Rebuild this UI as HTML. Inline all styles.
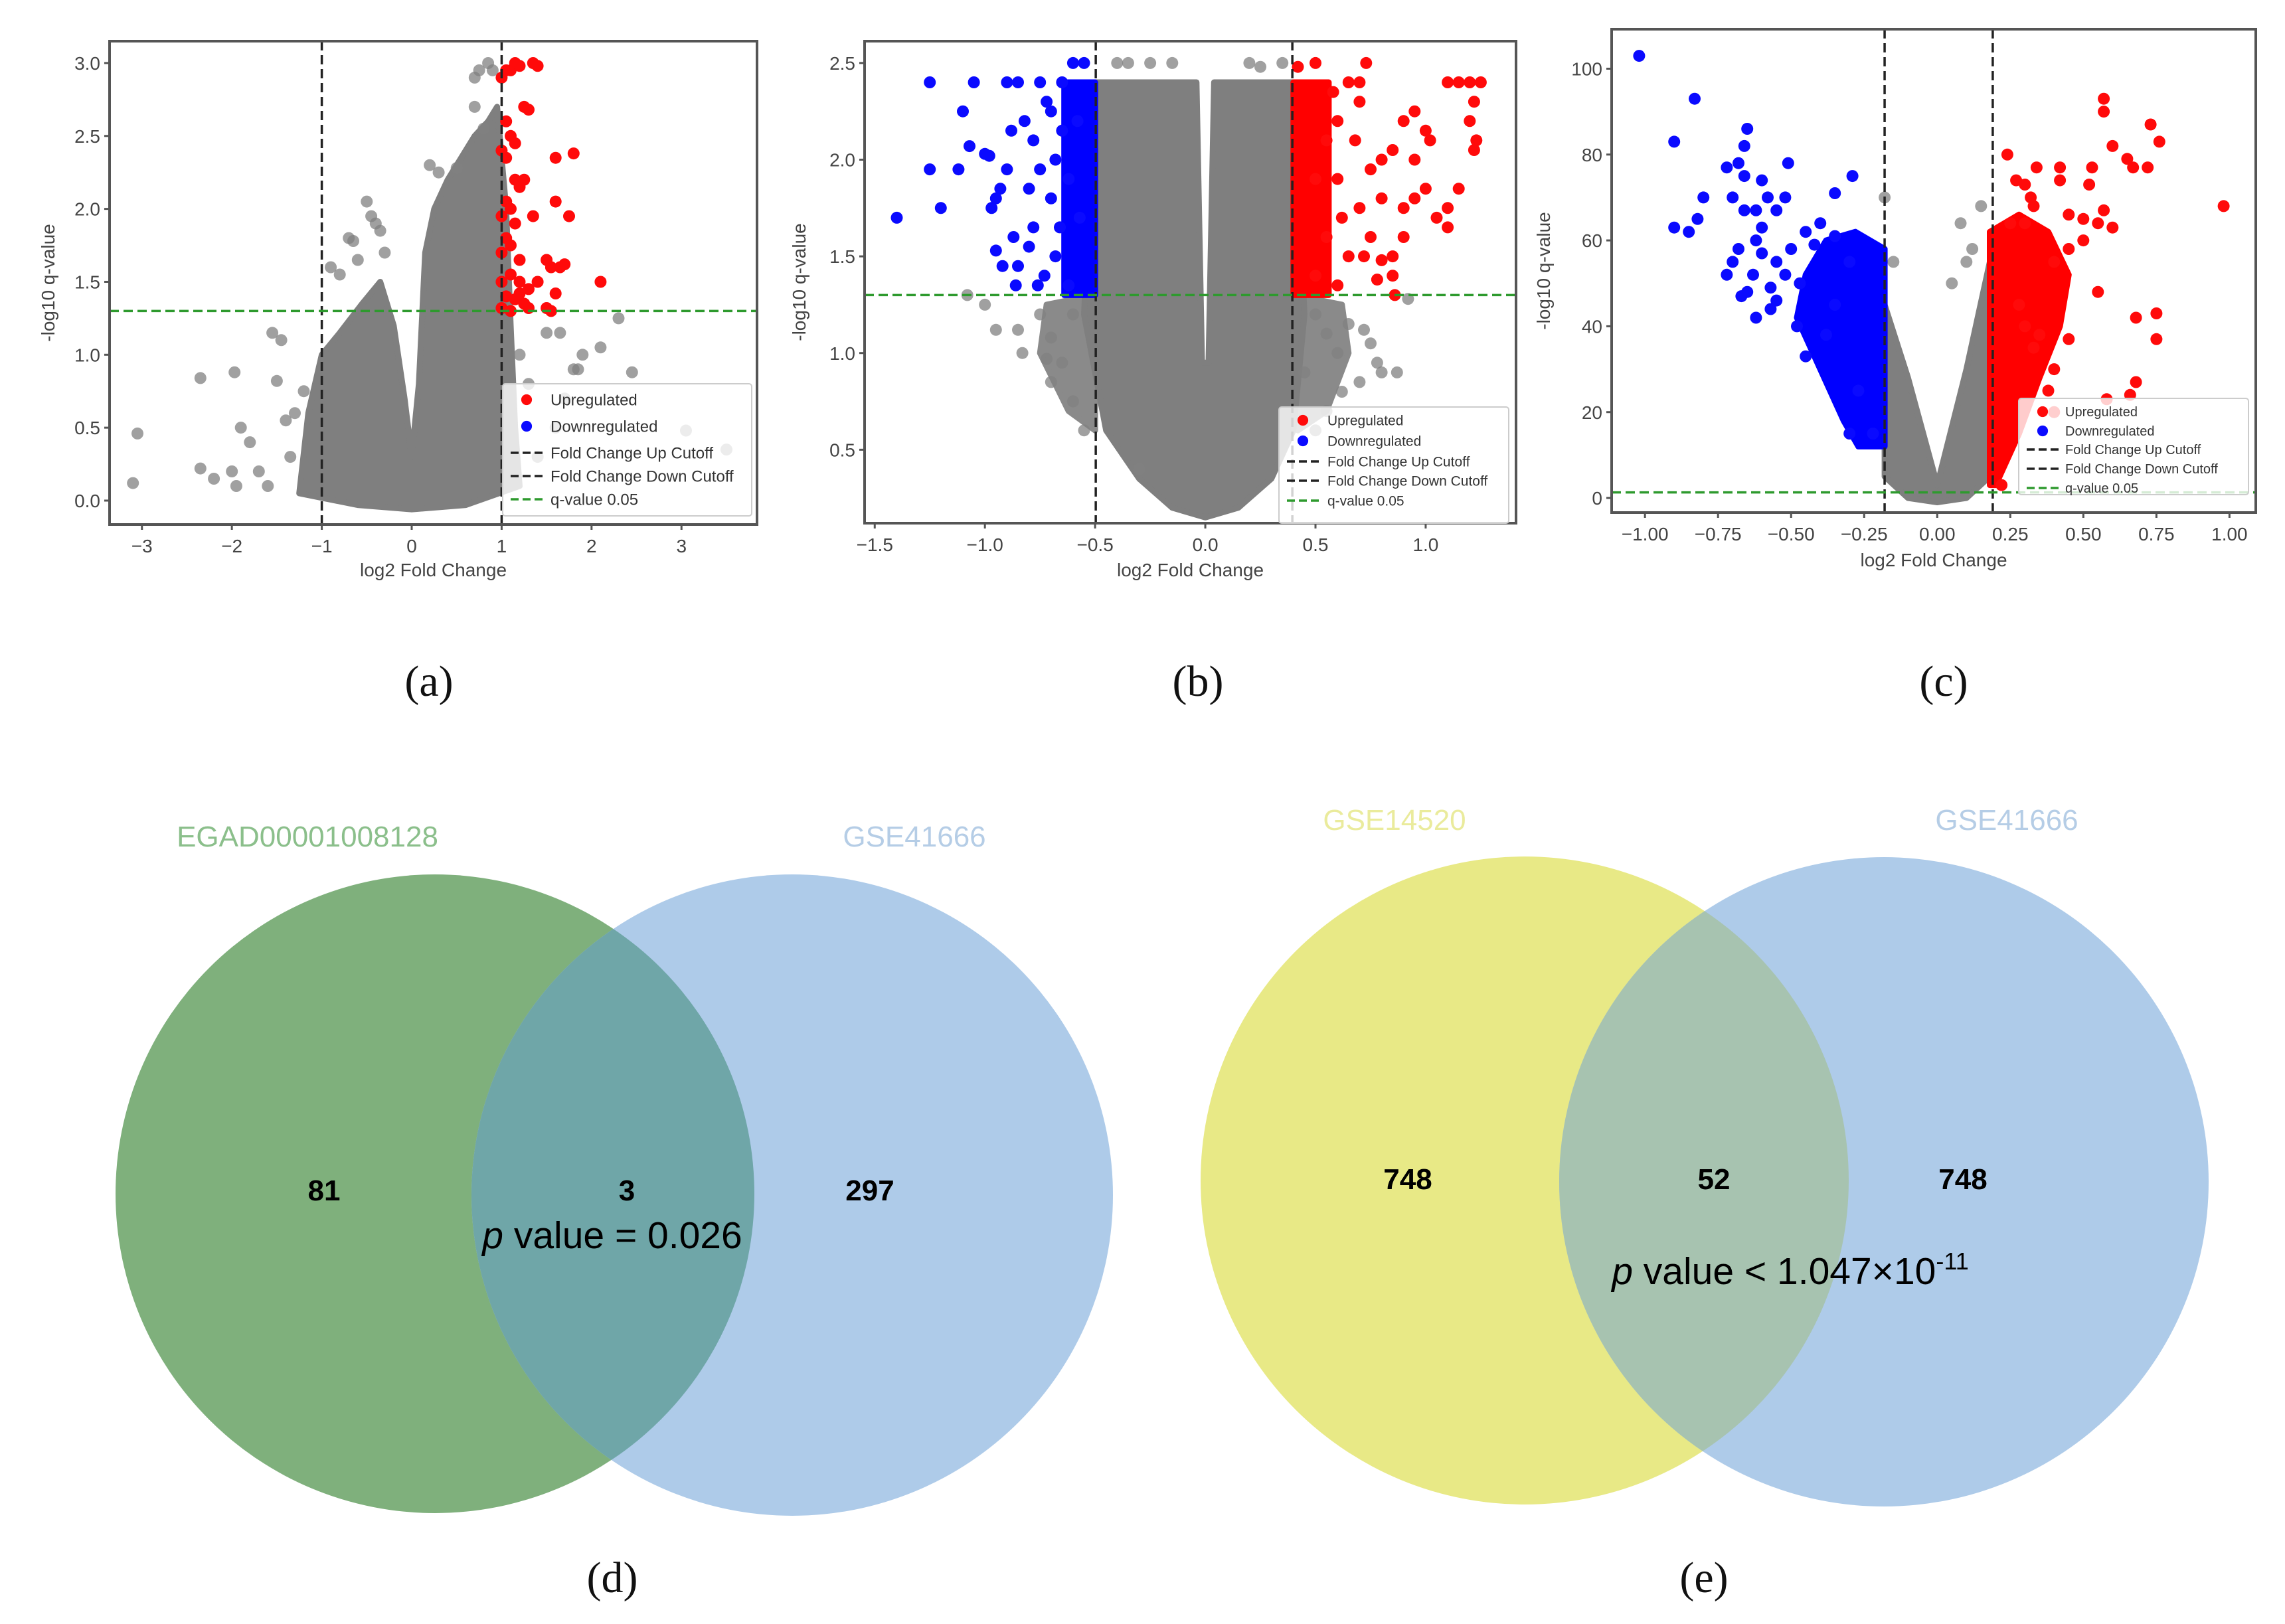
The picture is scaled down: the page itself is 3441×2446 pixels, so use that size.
<!DOCTYPE html>
<html><head><meta charset="utf-8"><style>
html,body{margin:0;padding:0;background:#fff;}
svg{display:block;}
</style></head><body>
<svg id="fig" width="3441" height="2446" viewBox="0 0 3441 2446" xmlns="http://www.w3.org/2000/svg">
<rect width="3441" height="2446" fill="#fff"/>
<g id="panels"></g>
<g id="venn-d">
  <circle cx="655" cy="1798" r="481" fill="#7fb07c"/>
  <circle cx="1193" cy="1800" r="483" fill="#aecbe9"/>
  <clipPath id="clipD"><circle cx="655" cy="1798" r="481"/></clipPath>
  <circle cx="1193" cy="1800" r="483" fill="#6fa6a8" clip-path="url(#clipD)"/>
  <text x="463" y="1275" font-size="44" fill="#8bbf8b" text-anchor="middle" font-family="Liberation Sans, sans-serif">EGAD00001008128</text>
  <text x="1377" y="1275" font-size="44" fill="#b5cde6" text-anchor="middle" font-family="Liberation Sans, sans-serif">GSE41666</text>
  <text x="488" y="1808" font-size="44" font-weight="bold" text-anchor="middle" font-family="Liberation Sans, sans-serif">81</text>
  <text x="944" y="1808" font-size="44" font-weight="bold" text-anchor="middle" font-family="Liberation Sans, sans-serif">3</text>
  <text x="1310" y="1808" font-size="44" font-weight="bold" text-anchor="middle" font-family="Liberation Sans, sans-serif">297</text>
  <text x="922" y="1880" font-size="57" text-anchor="middle" font-family="Liberation Sans, sans-serif"><tspan font-style="italic">p</tspan> value = 0.026</text>
</g>
<g id="venn-e">
  <circle cx="2296" cy="1778" r="488" fill="#e8e986"/>
  <circle cx="2837" cy="1780" r="489" fill="#aecbe9"/>
  <clipPath id="clipE"><circle cx="2296" cy="1778" r="488"/></clipPath>
  <circle cx="2837" cy="1780" r="489" fill="#a7c3b0" clip-path="url(#clipE)"/>
  <text x="2100" y="1250" font-size="44" fill="#eaeb9c" text-anchor="middle" font-family="Liberation Sans, sans-serif">GSE14520</text>
  <text x="3022" y="1250" font-size="44" fill="#b5cde6" text-anchor="middle" font-family="Liberation Sans, sans-serif">GSE41666</text>
  <text x="2120" y="1791" font-size="44" font-weight="bold" text-anchor="middle" font-family="Liberation Sans, sans-serif">748</text>
  <text x="2581" y="1791" font-size="44" font-weight="bold" text-anchor="middle" font-family="Liberation Sans, sans-serif">52</text>
  <text x="2956" y="1791" font-size="44" font-weight="bold" text-anchor="middle" font-family="Liberation Sans, sans-serif">748</text>
  <text x="2696" y="1934" font-size="57" text-anchor="middle" font-family="Liberation Sans, sans-serif"><tspan font-style="italic">p</tspan> value &lt; 1.047×10<tspan font-size="36" dy="-22">-11</tspan></text>
</g>
<g font-family="Liberation Serif, serif" font-size="66" text-anchor="middle" fill="#111">
  <text x="646" y="1048">(a)</text>
  <text x="1804" y="1048">(b)</text>
  <text x="2927" y="1048">(c)</text>
  <text x="922" y="2398">(d)</text>
  <text x="2566" y="2398">(e)</text>
</g>
</svg>
<script>
// ---------- Panel A data ----------
const aGrayCloudX=[-1.25,-1.15,-1.0,-0.8,-0.55,-0.35,-0.2,-0.08,0,0.08,0.15,0.25,0.4,0.55,0.7,0.85,0.95,1.05,1.1,1.15,1.2,0.6,0,-0.6];
const aGrayCloudY=[0.05,0.6,1.0,1.15,1.35,1.5,1.2,0.7,0.3,0.8,1.7,2.0,2.2,2.35,2.5,2.6,2.7,2.0,1.2,0.5,0.1,-0.03,-0.06,-0.03];
const aGrayX=[-3.1,-3.05,-2.35,-2.35,-2.2,-2.0,-1.97,-1.95,-1.9,-1.8,-1.7,-1.6,-1.55,-1.5,-1.4,-1.45,-1.3,-1.35,-1.2,-0.9,-0.7,-0.65,-0.5,-0.45,-0.4,-0.35,-0.3,-0.8,-0.6,0.2,0.3,0.5,0.7,0.75,0.85,0.9,0.7,0.8,1.2,1.3,1.5,1.65,1.8,1.9,1.85,2.3,2.45,2.1,3.05,3.5,1.6,1.4,1.7];
const aGrayY=[0.12,0.46,0.84,0.22,0.15,0.2,0.88,0.1,0.5,0.4,0.2,0.1,1.15,0.82,0.55,1.1,0.6,0.3,0.75,1.6,1.8,1.78,2.05,1.95,1.9,1.85,1.7,1.55,1.65,2.3,2.25,2.28,2.9,2.95,3.0,2.95,2.7,2.55,1.0,0.8,1.15,1.15,0.9,1.0,0.9,1.25,0.88,1.05,0.48,0.35,0.5,0.3,0.7];
const aRedX=[1.0,1.05,1.1,1.15,1.2,1.35,1.4,1.25,1.3,1.05,1.1,1.15,1.0,1.05,1.6,1.8,1.15,1.2,1.25,1.05,1.1,1.0,1.15,1.35,1.6,1.75,1.05,1.1,1.0,1.2,1.5,1.55,1.65,1.7,1.1,1.0,1.2,1.3,1.4,2.1,1.05,1.15,1.25,1.6,1.5,1.55,1.0,1.3,1.1,1.2];
const aRedY=[2.9,2.95,2.95,3.0,2.98,3.0,2.98,2.7,2.68,2.6,2.5,2.45,2.4,2.35,2.35,2.38,2.2,2.15,2.2,2.05,2.0,1.95,1.9,1.95,2.05,1.95,1.8,1.75,1.7,1.65,1.65,1.6,1.6,1.62,1.55,1.5,1.5,1.45,1.5,1.5,1.4,1.38,1.35,1.42,1.32,1.3,1.32,1.32,1.3,1.42];
const aBlueX=[]; const aBlueY=[];
const aXTicks=[-3,-2,-1,0,1,2,3];
const aXTickLabels=["\u22123","\u22122","\u22121","0","1","2","3"];
const aYTicks=[0,0.5,1.0,1.5,2.0,2.5,3.0];
const aYTickLabels=["0.0","0.5","1.0","1.5","2.0","2.5","3.0"];
const aCutoffs=[-1,1]; const aQLine=[1.3];

// ---------- Panel B data ----------
const bGrayCloudX=[-0.5,-0.04,-0.015,0.015,0.04,0.4,0.45,0.4,0.3,0.15,0,-0.15,-0.3,-0.45,-0.55,-0.5];
const bGrayCloudY=[2.4,2.4,0.95,0.95,2.4,2.4,1.2,0.6,0.35,0.2,0.15,0.2,0.35,0.6,1.2,2.4];
const bGrayFringeLX=[-0.5,-0.72,-0.75,-0.62,-0.5];
const bGrayFringeLY=[1.3,1.25,1.0,0.7,0.6];
const bGrayFringeRX=[0.4,0.62,0.65,0.55,0.42];
const bGrayFringeRY=[1.3,1.25,1.0,0.7,0.6];
const bBlueCloudX=[-0.64,-0.5,-0.5,-0.64];
const bBlueCloudY=[2.4,2.4,1.3,1.3];
const bRedCloudX=[0.4,0.56,0.56,0.4];
const bRedCloudY=[2.4,2.4,1.3,1.3];
const bGrayX=[-1.08,-1.0,-0.95,-0.85,-0.83,-0.7,-0.75,-0.72,-0.65,-0.6,-0.7,-0.55,-0.6,0.5,0.55,0.6,0.65,0.72,0.75,0.78,0.8,0.87,0.7,0.62,0.55,0.92,-0.4,-0.35,-0.25,-0.15,0.2,0.25,0.35,-0.3,0.45,0.5];
const bGrayY=[1.3,1.25,1.12,1.12,1.0,1.08,1.2,0.97,0.95,0.75,0.85,0.6,1.2,1.2,1.1,1.0,1.15,1.12,1.05,0.95,0.9,0.9,0.85,0.8,0.7,1.28,2.5,2.5,2.5,2.5,2.5,2.48,2.5,0.4,0.9,0.6];
const bBlueX=[-1.4,-1.25,-1.25,-1.2,-1.12,-1.1,-1.05,-1.07,-1.0,-0.98,-0.97,-0.95,-0.93,-0.95,-0.9,-0.9,-0.88,-0.87,-0.85,-0.85,-0.82,-0.8,-0.8,-0.78,-0.78,-0.75,-0.75,-0.73,-0.7,-0.7,-0.68,-0.68,-0.65,-0.65,-0.62,-0.62,-0.6,-0.58,-0.55,-0.57,-0.86,-0.92,-0.72,-0.66,-0.76];
const bBlueY=[1.7,2.4,1.95,1.75,1.95,2.25,2.4,2.07,2.03,2.02,1.75,1.8,1.85,1.53,2.4,1.95,2.15,1.6,2.4,1.45,2.2,1.85,1.55,2.1,1.65,2.4,1.95,1.4,2.25,1.8,2.0,1.5,2.4,2.15,1.9,1.35,2.5,2.2,2.5,1.7,1.35,1.45,2.3,1.65,1.35];
const bRedX=[0.42,0.5,0.73,1.1,1.15,1.2,1.25,1.22,1.2,1.23,1.22,1.15,1.1,1.05,1.1,1.0,0.95,0.9,0.9,0.95,1.0,1.02,0.85,0.8,0.75,0.7,0.65,0.6,0.55,0.6,0.62,0.7,0.8,0.75,0.65,0.72,0.8,0.85,0.85,0.78,0.86,0.6,0.55,0.5,0.5,0.58,0.68,0.9,0.95,0.7];
const bRedY=[2.48,2.5,2.5,2.4,2.4,2.4,2.4,2.3,2.2,2.1,2.05,1.85,1.75,1.7,1.65,1.85,1.8,1.75,2.2,2.25,2.15,2.1,2.05,2.0,1.95,2.3,2.4,2.2,2.1,1.9,1.7,1.75,1.8,1.6,1.5,1.5,1.48,1.5,1.4,1.38,1.3,1.35,1.6,1.4,1.9,2.35,2.1,1.6,2.0,2.4];
const bXTicks=[-1.5,-1.0,-0.5,0,0.5,1.0];
const bXTickLabels=["\u22121.5","\u22121.0","\u22120.5","0.0","0.5","1.0"];
const bYTicks=[0.5,1.0,1.5,2.0,2.5];
const bYTickLabels=["0.5","1.0","1.5","2.0","2.5"];
const bCutoffs=[-0.497,0.395]; const bQLine=[1.3];

// ---------- Panel C data ----------
const cGrayCloudX=[-0.18,-0.1,0,0.1,0.18,0.18,0.1,0,-0.1,-0.18];
const cGrayCloudY=[45,28,3,30,55,5,0,-1,0,5];
const cBlueCloudX=[-0.18,-0.28,-0.38,-0.45,-0.48,-0.4,-0.32,-0.27,-0.18];
const cBlueCloudY=[58,62,60,52,42,30,18,12,12];
const cRedCloudX=[0.18,0.28,0.38,0.45,0.42,0.35,0.28,0.2,0.18];
const cRedCloudY=[62,66,62,52,40,28,15,3,3];
const cGrayX=[-0.18,0.15,0.08,0.1,0.05,-0.15,0.12];
const cGrayY=[70,68,64,55,50,55,58];
const cBlueX=[-1.02,-0.83,-0.9,-0.65,-0.66,-0.72,-0.68,-0.66,-0.51,-0.29,-0.35,-0.6,-0.58,-0.55,-0.52,-0.7,-0.8,-0.82,-0.9,-0.85,-0.66,-0.62,-0.6,-0.68,-0.7,-0.72,-0.62,-0.6,-0.65,-0.67,-0.63,-0.55,-0.57,-0.52,-0.55,-0.57,-0.62,-0.48,-0.45,-0.45,-0.4,-0.42,-0.35,-0.3,-0.27,-0.3,-0.22,-0.5,-0.47,-0.35,-0.38];
const cBlueY=[103,93,83,86,82,77,78,75,78,75,71,74,70,67,70,70,70,65,63,62,67,67,63,58,55,52,60,57,48,47,52,55,49,52,46,44,42,40,33,62,64,59,61,55,25,15,15,58,50,45,38];
const cRedX=[0.57,0.57,0.73,0.76,0.6,0.65,0.72,0.67,0.24,0.34,0.42,0.53,0.27,0.3,0.42,0.52,0.32,0.33,0.98,0.57,0.45,0.5,0.55,0.6,0.25,0.3,0.5,0.45,0.55,0.68,0.75,0.75,0.45,0.35,0.33,0.4,0.68,0.66,0.58,0.4,0.38,0.4,0.28,0.3,0.22];
const cRedY=[93,90,87,83,82,79,77,77,80,77,77,77,74,73,74,73,70,68,68,67,66,65,64,63,64,64,60,58,48,42,43,37,37,38,35,30,27,24,23,20,25,55,45,40,3];
const cXTicks=[-1,-0.75,-0.5,-0.25,0,0.25,0.5,0.75,1];
const cXTickLabels=["\u22121.00","\u22120.75","\u22120.50","\u22120.25","0.00","0.25","0.50","0.75","1.00"];
const cYTicks=[0,20,40,60,80,100];
const cYTickLabels=["0","20","40","60","80","100"];
const cCutoffs=[-0.18,0.19]; const cQLine=[1.3];

const NS="http://www.w3.org/2000/svg";
const root=document.getElementById('panels');
function mk(tag,attrs,parent){const e=document.createElementNS(NS,tag);for(const k in attrs)e.setAttribute(k,attrs[k]);parent.appendChild(e);return e;}
function lin(d0,d1,r0,r1){return v=>r0+(v-d0)*(r1-r0)/(d1-d0);}

function volcano(p){
  const g=mk('g',{},root);
  
  
  const sx=lin(p.xd[0],p.xd[1],p.box[0],p.box[2]);
  const sy=lin(p.yd[0],p.yd[1],p.box[3],p.box[1]);
  const cid='clip'+p.id;
  const cp=mk('clipPath',{id:cid},g);
  mk('rect',{x:p.box[0],y:p.box[1],width:p.box[2]-p.box[0],height:p.box[3]-p.box[1]},cp);
  const plot=mk('g',{'clip-path':'url(#'+cid+')'},g);
  function cloud(xs,ys,fill,name){
    if(!xs.length)return;
    const pts=xs.map((x,i)=>sx(x).toFixed(1)+','+sy(ys[i]).toFixed(1)).join(' ');
    const e=mk('polygon',{points:pts,fill:fill,stroke:fill,'stroke-width':p.r,'stroke-linejoin':'round'},plot);
    
    
  }
  function pts(xs,ys,fill,name){
    xs.forEach((x,i)=>{
      const c=mk('circle',{cx:sx(x).toFixed(1),cy:sy(ys[i]).toFixed(1),r:p.r,fill:fill},plot);
      
      
    });
  }
  (p.extraGray||[]).forEach(c=>cloud(c[0],c[1],'#8a8a8a','gray-fringe-cloud'));
  cloud(p.grayCloud[0],p.grayCloud[1],'#7f7f7f','gray-point-cloud');
  pts(p.gray[0],p.gray[1],'rgba(128,128,128,0.75)','gray-point');
  if(p.blueCloud)cloud(p.blueCloud[0],p.blueCloud[1],'#0000ff','blue-point-cloud');
  if(p.redCloud)cloud(p.redCloud[0],p.redCloud[1],'#ff0000','red-point-cloud');
  pts(p.blue[0],p.blue[1],'#0a0aff','downregulated-point');
  pts(p.red[0],p.red[1],'#ff0a0a','upregulated-point');
  p.cut.forEach(c=>{
    const l=mk('line',{x1:sx(c),x2:sx(c),y1:p.box[1],y2:p.box[3],stroke:'#222','stroke-width':3.5,'stroke-dasharray':'14 7'},plot);
    
    
  });
  p.q.forEach(q=>{
    const l=mk('line',{x1:p.box[0],x2:p.box[2],y1:sy(q),y2:sy(q),stroke:'#2e9a2e','stroke-width':3.5,'stroke-dasharray':'14 7'},plot);
    
    
  });
  const fr=mk('rect',{x:p.box[0],y:p.box[1],width:p.box[2]-p.box[0],height:p.box[3]-p.box[1],fill:'none',stroke:'#555','stroke-width':4},g);
  
  
  const fs=p.fs;
  p.xt.forEach((t,i)=>{
    mk('line',{x1:sx(t),x2:sx(t),y1:p.box[3],y2:p.box[3]+8,stroke:'#555','stroke-width':3},g);
    const tx=mk('text',{x:sx(t),y:p.box[3]+fs+14,'font-size':fs,'text-anchor':'middle',fill:'#444','font-family':'Liberation Sans, sans-serif'},g);
    tx.textContent=p.xl[i];
    
    
  });
  p.yt.forEach((t,i)=>{
    mk('line',{x1:p.box[0]-8,x2:p.box[0],y1:sy(t),y2:sy(t),stroke:'#555','stroke-width':3},g);
    const tx=mk('text',{x:p.box[0]-14,y:sy(t)+fs*0.36,'font-size':fs,'text-anchor':'end',fill:'#444','font-family':'Liberation Sans, sans-serif'},g);
    tx.textContent=p.yl[i];
    
    
  });
  const xl=mk('text',{x:(p.box[0]+p.box[2])/2,y:p.xlabY,'font-size':fs,'text-anchor':'middle',fill:'#444','font-family':'Liberation Sans, sans-serif'},g);
  xl.textContent='log2 Fold Change';
  
  
  const yc=(p.box[1]+p.box[3])/2;
  const yl=mk('text',{x:p.ylabX,y:yc,'font-size':fs,'text-anchor':'middle',fill:'#444','font-family':'Liberation Sans, sans-serif',transform:'rotate(-90 '+p.ylabX+' '+yc+')'},g);
  yl.textContent='-log10 q-value';
  
  
  const L=p.leg;
  const lg=mk('g',{},g);
  
  
  mk('rect',{x:L.x0,y:L.y0,width:L.x1-L.x0,height:L.y1-L.y0,fill:'rgba(255,255,255,0.8)',stroke:'#ccc','stroke-width':2,rx:4},lg);
  const names=['Upregulated','Downregulated','Fold Change Up Cutoff','Fold Change Down Cutoff','q-value 0.05'];
  names.forEach((n,i)=>{
    const y=L.ys[i];
    if(i<2){mk('circle',{cx:L.x0+36,cy:y,r:p.r*0.9,fill:i==0?'#ff0a0a':'#0a0aff'},lg);}
    else{mk('line',{x1:L.x0+12,x2:L.x0+60,y1:y,y2:y,stroke:i==4?'#2e9a2e':'#222','stroke-width':3.5,'stroke-dasharray':'12 6'},lg);}
    const t=mk('text',{x:L.tx,y:y+L.fs*0.36,'font-size':L.fs,fill:'#333','font-family':'Liberation Sans, sans-serif'},lg);
    t.textContent=n;
    
    
  });
}

volcano({id:'a',box:[165,62,1140,790],xd:[-3.36,3.84],yd:[-0.164,3.15],r:9,fs:28,
  grayCloud:[aGrayCloudX,aGrayCloudY],gray:[aGrayX,aGrayY],blue:[aBlueX,aBlueY],red:[aRedX,aRedY],
  cut:aCutoffs,q:aQLine,xt:aXTicks,xl:aXTickLabels,yt:aYTicks,yl:aYTickLabels,xlabY:868,ylabX:82,
  leg:{x0:757,y0:578,x1:1132,y1:777,ys:[602,642,682,717,752],tx:829,fs:24}});
volcano({id:'b',box:[1302,62,2283,788],xd:[-1.546,1.41],yd:[0.12,2.613],r:9,fs:28,
  grayCloud:[bGrayCloudX,bGrayCloudY],extraGray:[[bGrayFringeLX,bGrayFringeLY],[bGrayFringeRX,bGrayFringeRY]],
  blueCloud:[bBlueCloudX,bBlueCloudY],redCloud:[bRedCloudX,bRedCloudY],
  gray:[bGrayX,bGrayY],blue:[bBlueX,bBlueY],red:[bRedX,bRedY],
  cut:bCutoffs,q:bQLine,xt:bXTicks,xl:bXTickLabels,yt:bYTicks,yl:bYTickLabels,xlabY:868,ylabX:1213,
  leg:{x0:1926,y0:613,x1:2272,y1:788,ys:[633,664,695,724,754],tx:1999,fs:21}});
volcano({id:'c',box:[2427,44,3397,772],xd:[-1.114,1.09],yd:[-3.4,109.2],r:9,fs:28,
  grayCloud:[cGrayCloudX,cGrayCloudY],blueCloud:[cBlueCloudX,cBlueCloudY],redCloud:[cRedCloudX,cRedCloudY],
  gray:[cGrayX,cGrayY],blue:[cBlueX,cBlueY],red:[cRedX,cRedY],
  cut:cCutoffs,q:cQLine,xt:cXTicks,xl:cXTickLabels,yt:cYTicks,yl:cYTickLabels,xlabY:853,ylabX:2334,
  leg:{x0:3040,y0:600,x1:3386,y1:745,ys:[620,649,677,706,735],tx:3110,fs:20}});
</script>
</body></html>
